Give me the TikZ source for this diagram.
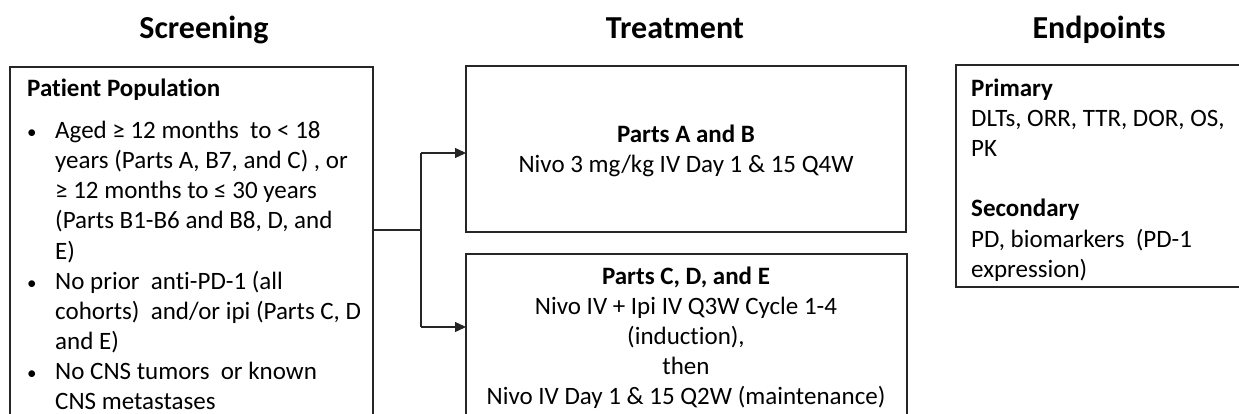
\documentclass[tikz,border=0pt]{standalone}
\usepackage{fontspec}
\setmainfont{Carlito}[Ligatures={NoCommon}]
\usetikzlibrary{arrows.meta}
\begin{document}
\begin{tikzpicture}[x=1pt,y=-1pt,
  box/.style={draw=black!85,line width=1.3pt},
  hdr/.style={anchor=base,inner sep=0pt,font=\fontsize{32}{38}\selectfont\bfseries},
  txt/.style={anchor=base west,inner sep=0pt,font=\fontsize{25}{30}\selectfont},
  bul/.style={anchor=base west,inner sep=0pt,font=\fontsize{19}{30}\selectfont},
  ctr/.style={anchor=base,inner sep=0pt,font=\fontsize{25}{30}\selectfont},
  btxt/.style={txt,font=\fontsize{25}{30}\selectfont\bfseries},
  bctr/.style={ctr,font=\fontsize{25}{30}\selectfont\bfseries},
  conn/.style={line width=1.3pt,draw=black!85},
  arr/.style={conn,-{Triangle[length=11pt,width=10pt]}}]
\useasboundingbox (0,0) rectangle (1239,414);
% headers
\node[hdr] (hS) at (204,39) {Screening};
\node[hdr] (hT) at (675,39) {Treatment};
\node[hdr] (hE) at (1099,39) {Endpoints};
% boxes
\draw[box] (10,67) rectangle (373,440);
\coordinate (scrE) at (373,230);
\draw[box] (466,66) rectangle (906,232);
\draw[box] (466,254) rectangle (907,440);
\draw[box] (956,65) rectangle (1260,287);
% screening text
\node[btxt] (pp) at (27,97) {Patient Population};
\node[bul] (b1) at (27,139) {•};
\node[bul] (b2) at (27,289) {•};
\node[bul] (b3) at (27,379) {•};
\node[txt] (l1) at (55,139) {Aged ≥ 12 months\ \ to < 18};
\node[txt] (l2) at (55,169) {years (Parts A, B7, and C) , or};
\node[txt] (l3) at (55,199) {≥ 12 months to ≤ 30 years};
\node[txt] (l4) at (55,229) {(Parts B1-B6 and B8, D, and};
\node[txt] (l5) at (55,259) {E)};
\node[txt] (l6) at (55,289) {No prior\ \ anti-PD-1 (all};
\node[txt] (l7) at (55,319) {cohorts)\ \ and/or ipi (Parts C, D};
\node[txt] (l8) at (55,349) {and E)};
\node[txt] (l9) at (55,379) {No CNS tumors\ \ or known};
\node[txt] (l10) at (55,409) {CNS metastases};
% treatment text
\node[bctr] (ab) at (686,143) {Parts A and B};
\node[ctr] (ab1) at (686,173) {Nivo 3 mg/kg IV Day 1 \& 15 Q4W};
\node[bctr] (cde) at (686,284) {Parts C, D, and E};
\node[ctr] (c1) at (686,314) {Nivo IV + Ipi IV Q3W Cycle 1-4};
\node[ctr] (c2) at (686,344) {(induction),};
\node[ctr] (c3) at (686,374) {then};
\node[ctr] (c4) at (686,404) {Nivo IV Day 1 \& 15 Q2W (maintenance)};
% endpoints text
\node[btxt] (pr) at (971,97) {Primary};
\node[txt] (pr1) at (971,127) {DLTs, ORR, TTR, DOR, OS,};
\node[txt] (pr2) at (971,157) {PK};
\node[btxt] (se) at (971,217) {Secondary};
\node[txt] (se1) at (971,247) {PD, biomarkers\ \ (PD-1};
\node[txt] (se2) at (971,277) {expression)};
% connectors
\coordinate (split) at (421,230);
\coordinate (tA) at (421,153);
\coordinate (tC) at (421,327);
\coordinate (eA) at (466,153);
\coordinate (eC) at (466,327);
\draw[conn] (scrE) -- (split);
\draw[conn] (tA) -- (tC);
\draw[arr] (tA) -- (eA);
\draw[arr] (tC) -- (eC);
\end{tikzpicture}
\end{document}
